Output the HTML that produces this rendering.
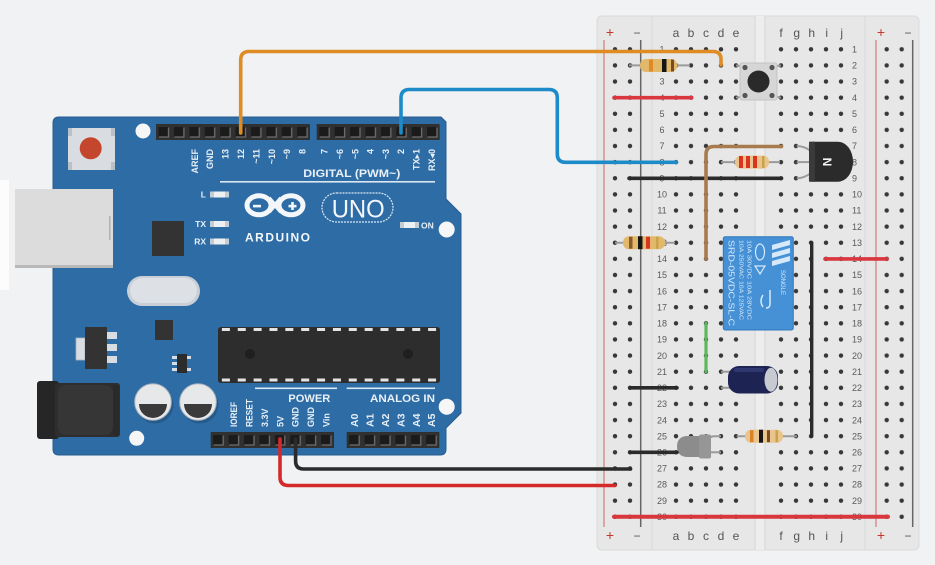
<!DOCTYPE html>
<html><head><meta charset="utf-8"><style>
html,body{margin:0;padding:0;background:#f1f2f3;}
svg{display:block;}
</style></head><body>
<svg width="935" height="565" viewBox="0 0 935 565" xmlns="http://www.w3.org/2000/svg" font-family="'Liberation Sans','DejaVu Sans',sans-serif">
<defs>
<pattern id="holes" patternUnits="userSpaceOnUse" width="15" height="16.12"><circle cx="7.5" cy="8.06" r="2.2" fill="#383838"/></pattern>
<pattern id="pins" patternUnits="userSpaceOnUse" width="15.4" height="16"><rect width="15.4" height="16" fill="#303030"/><rect x="2.5" y="3" width="10" height="10" fill="#1b1b1b"/><path d="M3 13H12.5V3.5" stroke="#6e6e6e" stroke-width="1.3" fill="none"/></pattern>
</defs>
<rect width="935" height="565" fill="#f1f2f3"/>
<rect x="0" y="180" width="9" height="110" fill="#fcfcfc"/>

<!-- ================= ARDUINO ================= -->
<!-- USB tabs -->
<circle cx="73" cy="183" r="8" fill="#c9d3de"/>
<circle cx="73" cy="274" r="8" fill="#c9d3de"/>
<!-- board -->
<path d="M59 117 L441 117 L446 122 L446 199 L461 214 L461 413 L446 428 L446 449 Q446 455 440 455 L59 455 Q53 455 53 449 L53 123 Q53 117 59 117 Z" fill="#2e6ca5" stroke="#275d90" stroke-width="1"/>
<!-- USB connector -->
<rect x="15" y="189" width="98" height="79" fill="#dcdcdc"/>
<rect x="15" y="265" width="98" height="3" fill="#b9b9b9"/>
<rect x="109" y="216" width="1.5" height="24" fill="#b0b0b0"/>
<!-- power jack -->
<rect x="37" y="381" width="22" height="58" rx="3" fill="#262626"/>
<rect x="55" y="383" width="65" height="54" rx="3" fill="#2e2e2e"/>
<rect x="58" y="385" width="55" height="50" rx="8" fill="#363636"/>
<rect x="113" y="385" width="6" height="50" fill="#2a2a2a"/>
<!-- reset button -->
<rect x="68" y="128" width="47" height="42" rx="4" fill="#d9dde2"/>
<rect x="68" y="128" width="4" height="8" fill="#b9c0c7"/><rect x="111" y="128" width="4" height="8" fill="#b9c0c7"/>
<rect x="68" y="162" width="4" height="8" fill="#b9c0c7"/><rect x="111" y="162" width="4" height="8" fill="#b9c0c7"/>
<circle cx="90.7" cy="148.3" r="11" fill="#c4472d"/>
<!-- mounting holes -->
<circle cx="143" cy="131" r="7.5" fill="#f6f6f6"/>
<circle cx="446.7" cy="229.5" r="8" fill="#f6f6f6"/>
<circle cx="446.7" cy="406.7" r="8" fill="#f6f6f6"/>
<circle cx="136.7" cy="438.3" r="7.5" fill="#f6f6f6"/>
<!-- chips -->
<rect x="152" y="221" width="32" height="35" fill="#333"/>
<rect x="155" y="320" width="18" height="20" fill="#333"/>
<rect x="172" y="356" width="5" height="3" fill="#d8dde3"/><rect x="172" y="362" width="5" height="3" fill="#d8dde3"/><rect x="172" y="368" width="5" height="3" fill="#d8dde3"/>
<rect x="186" y="356" width="5" height="3" fill="#d8dde3"/><rect x="186" y="368" width="5" height="3" fill="#d8dde3"/>
<rect x="177" y="354" width="10" height="19" fill="#2c2c2c"/>
<!-- regulator -->
<rect x="76" y="338" width="9" height="22" fill="#d8dde3" stroke="#a9b3bd" stroke-width="0.8"/>
<rect x="85" y="327" width="22" height="42" fill="#333"/>
<rect x="107" y="332" width="10" height="7" fill="#d8dde3"/>
<rect x="107" y="344" width="10" height="7" fill="#d8dde3"/>
<rect x="107" y="356" width="10" height="7" fill="#d8dde3"/>
<!-- crystal -->
<rect x="127" y="276" width="73" height="30" rx="15" fill="#c9cfd6"/>
<rect x="130" y="278" width="67" height="25" rx="12.5" fill="#dde1e5"/>
<!-- capacitors -->
<circle cx="155" cy="405" r="18.5" fill="#255a8a"/>
<circle cx="200" cy="405" r="18.5" fill="#255a8a"/>
<circle cx="153" cy="402" r="18.3" fill="#e6e8ea" stroke="#aab4bd" stroke-width="1"/>
<path d="M139 404 A14 14 0 0 0 167 404 Z" fill="#3a3a3a"/>
<circle cx="198" cy="402" r="18.3" fill="#e6e8ea" stroke="#aab4bd" stroke-width="1"/>
<path d="M184 404 A14 14 0 0 0 212 404 Z" fill="#3a3a3a"/>
<!-- main IC -->
<rect x="218" y="327" width="222" height="56" rx="3" fill="#2d2d2d"/>
<line x1="221.9" y1="329.5" x2="440" y2="329.5" stroke="#e4e4e4" stroke-width="3" stroke-dasharray="8 7.86"/>
<line x1="221.9" y1="380" x2="440" y2="380" stroke="#e4e4e4" stroke-width="3" stroke-dasharray="8 7.86"/>
<circle cx="250" cy="354" r="5" fill="#1f1f1f"/>
<circle cx="408" cy="354" r="5" fill="#1f1f1f"/>

<!-- headers -->
<rect x="0" y="0" width="154" height="16" fill="url(#pins)" transform="translate(156,124)"/>
<rect x="0" y="0" width="123" height="16" fill="url(#pins)" transform="translate(316.7,124)"/>
<rect x="0" y="0" width="123.3" height="16" fill="url(#pins)" transform="translate(210.7,432)"/>
<rect x="0" y="0" width="92.6" height="16" fill="url(#pins)" transform="translate(346.7,432)"/>

<!-- top labels -->
<g fill="#e8f0f7" font-size="9" font-weight="bold" text-anchor="end">
<text transform="translate(197.8,149) rotate(-90)">AREF</text>
<text transform="translate(213.2,149) rotate(-90)">GND</text>
<text transform="translate(228.6,149) rotate(-90)">13</text>
<text transform="translate(244,149) rotate(-90)">12</text>
<text transform="translate(259.4,149) rotate(-90)">~11</text>
<text transform="translate(274.8,149) rotate(-90)">~10</text>
<text transform="translate(290.2,149) rotate(-90)">~9</text>
<text transform="translate(305.6,149) rotate(-90)">8</text>
<text transform="translate(327.7,149) rotate(-90)">7</text>
<text transform="translate(343,149) rotate(-90)">~6</text>
<text transform="translate(358.3,149) rotate(-90)">~5</text>
<text transform="translate(373.6,149) rotate(-90)">4</text>
<text transform="translate(388.9,149) rotate(-90)">~3</text>
<text transform="translate(404.2,149) rotate(-90)">2</text>
<text transform="translate(419.5,149) rotate(-90)">TX▸1</text>
<text transform="translate(434.8,149) rotate(-90)">RX◂0</text>
</g>
<text x="303.3" y="177" fill="#e8f0f7" font-size="11" font-weight="bold" textLength="97" lengthAdjust="spacingAndGlyphs">DIGITAL (PWM~)</text>
<rect x="220" y="181" width="215" height="1.6" fill="#dbe7f2"/>

<!-- LEDs -->
<g font-size="8.5" font-weight="bold" fill="#e8f0f7">
<text x="206" y="197.5" text-anchor="end">L</text>
<text x="206" y="227" text-anchor="end">TX</text>
<text x="206" y="244.5" text-anchor="end">RX</text>
<text x="421" y="228.5">ON</text>
</g>
<g>
<rect x="210" y="191.5" width="19" height="6" fill="#c4ccd4"/><rect x="214" y="191.5" width="11" height="6" fill="#eef1f4"/>
<rect x="210" y="221" width="19" height="6" fill="#c4ccd4"/><rect x="214" y="221" width="11" height="6" fill="#eef1f4"/>
<rect x="210" y="238.5" width="19" height="6" fill="#c4ccd4"/><rect x="214" y="238.5" width="11" height="6" fill="#eef1f4"/>
<rect x="400" y="222" width="19" height="6" fill="#c4ccd4"/><rect x="404" y="222" width="11" height="6" fill="#eef1f4"/>
</g>

<!-- logo -->
<ellipse cx="259" cy="205.3" rx="12" ry="9.5" fill="none" stroke="#f4f7fa" stroke-width="5"/>
<ellipse cx="291" cy="205.3" rx="12" ry="9.5" fill="none" stroke="#f4f7fa" stroke-width="5"/>
<path d="M269 198 L281 212 M269 212 L281 198" stroke="#f4f7fa" stroke-width="4"/>
<rect x="253" y="204.8" width="8" height="2.6" fill="#f4f7fa"/>
<rect x="288.5" y="204.8" width="8" height="2.6" fill="#f4f7fa"/>
<rect x="291.2" y="202" width="2.6" height="8" fill="#f4f7fa"/>
<text x="245" y="241.5" fill="#f4f7fa" font-size="12" font-weight="bold" textLength="65" lengthAdjust="spacing">ARDUINO</text>
<rect x="322" y="193" width="71" height="29" rx="14.5" fill="none" stroke="#dde8f3" stroke-width="1.2" stroke-dasharray="2 1"/>
<text x="331.7" y="217.5" fill="#f4f7fa" font-size="25" textLength="53" lengthAdjust="spacingAndGlyphs">UNO</text>

<!-- bottom labels -->
<rect x="255" y="387.5" width="82" height="1.6" fill="#dbe7f2"/>
<rect x="346.7" y="387.5" width="88.3" height="1.6" fill="#dbe7f2"/>
<text x="288.3" y="402" fill="#e8f0f7" font-size="11" font-weight="bold" textLength="42" lengthAdjust="spacingAndGlyphs">POWER</text>
<text x="370" y="402" fill="#e8f0f7" font-size="11" font-weight="bold" textLength="65" lengthAdjust="spacingAndGlyphs">ANALOG IN</text>
<g fill="#e8f0f7" font-size="9" font-weight="bold">
<text transform="translate(237.1,427) rotate(-90)" textLength="25" lengthAdjust="spacingAndGlyphs">IOREF</text>
<text transform="translate(252.5,427) rotate(-90)" textLength="28" lengthAdjust="spacingAndGlyphs">RESET</text>
<text transform="translate(267.9,427) rotate(-90)">3.3V</text>
<text transform="translate(283.3,427) rotate(-90)">5V</text>
<text transform="translate(298.7,427) rotate(-90)">GND</text>
<text transform="translate(314.1,427) rotate(-90)">GND</text>
<text transform="translate(329.5,427) rotate(-90)">Vin</text>
</g>
<g fill="#e8f0f7" font-size="10.5" font-weight="bold">
<text transform="translate(358.2,427) rotate(-90)">A0</text>
<text transform="translate(373.6,427) rotate(-90)">A1</text>
<text transform="translate(389,427) rotate(-90)">A2</text>
<text transform="translate(404.4,427) rotate(-90)">A3</text>
<text transform="translate(419.8,427) rotate(-90)">A4</text>
<text transform="translate(435.2,427) rotate(-90)">A5</text>
</g>

<!-- ================= BREADBOARD ================= -->
<rect x="597" y="16" width="322" height="534" rx="5" fill="#e7e7e7" stroke="#d9d9d9" stroke-width="1"/>
<rect x="755" y="16" width="10" height="534" fill="#ededed"/>
<line x1="755" y1="16" x2="755" y2="550" stroke="#d6d6d6" stroke-width="1"/>
<line x1="765" y1="16" x2="765" y2="550" stroke="#d6d6d6" stroke-width="1"/>
<line x1="652" y1="16" x2="652" y2="550" stroke="#d8d8d8" stroke-width="1"/>
<line x1="865" y1="16" x2="865" y2="550" stroke="#d8d8d8" stroke-width="1"/>
<!-- rail lines -->
<line x1="604" y1="40" x2="604" y2="527" stroke="#d27a7a" stroke-width="1.2"/>
<line x1="640.7" y1="40" x2="640.7" y2="527" stroke="#666" stroke-width="1.5"/>
<line x1="876" y1="40" x2="876" y2="527" stroke="#d27a7a" stroke-width="1.2"/>
<line x1="912.7" y1="40" x2="912.7" y2="527" stroke="#666" stroke-width="1.5"/>
<!-- holes -->
<rect x="0" y="0" width="30" height="483.6" fill="url(#holes)" transform="translate(607.5,41.24)"/>
<rect x="0" y="0" width="75" height="483.6" fill="url(#holes)" transform="translate(668.5,41.24)"/>
<rect x="0" y="0" width="75" height="483.6" fill="url(#holes)" transform="translate(773.5,41.24)"/>
<rect x="0" y="0" width="30" height="483.6" fill="url(#holes)" transform="translate(879.2,41.24)"/>
<!-- column labels -->
<g font-size="12" fill="#555" text-anchor="middle">
<text x="610" y="37" fill="#c0392b" font-size="14">+</text><text x="637" y="37">−</text>
<text x="676" y="37">a</text><text x="691" y="37">b</text><text x="706" y="37">c</text><text x="721" y="37">d</text><text x="736" y="37">e</text>
<text x="781" y="37">f</text><text x="796.7" y="37">g</text><text x="811.7" y="37">h</text><text x="826.7" y="37">i</text><text x="841.7" y="37">j</text>
<text x="881" y="37" fill="#c0392b" font-size="14">+</text><text x="908" y="37">−</text>
<text x="610" y="540" fill="#c0392b" font-size="14">+</text><text x="637" y="540">−</text>
<text x="676" y="540">a</text><text x="691" y="540">b</text><text x="706" y="540">c</text><text x="721" y="540">d</text><text x="736" y="540">e</text>
<text x="781" y="540">f</text><text x="796.7" y="540">g</text><text x="811.7" y="540">h</text><text x="826.7" y="540">i</text><text x="841.7" y="540">j</text>
<text x="881" y="540" fill="#c0392b" font-size="14">+</text><text x="908" y="540">−</text>
</g>
<!-- row numbers -->
<g font-size="9" fill="#5a5a5a" text-anchor="middle">
<text x="662" y="52.5">1</text><text x="662" y="68.6">2</text><text x="662" y="84.7">3</text><text x="662" y="100.9">4</text><text x="662" y="117">5</text>
<text x="662" y="133.1">6</text><text x="662" y="149.2">7</text><text x="662" y="165.3">8</text><text x="662" y="181.5">9</text><text x="662" y="197.6">10</text>
<text x="662" y="213.7">11</text><text x="662" y="229.8">12</text><text x="662" y="245.9">13</text><text x="662" y="262.1">14</text><text x="662" y="278.2">15</text>
<text x="662" y="294.3">16</text><text x="662" y="310.4">17</text><text x="662" y="326.5">18</text><text x="662" y="342.7">19</text><text x="662" y="358.8">20</text>
<text x="662" y="374.9">21</text><text x="662" y="391">22</text><text x="662" y="407.1">23</text><text x="662" y="423.3">24</text><text x="662" y="439.4">25</text>
<text x="662" y="455.5">26</text><text x="662" y="471.6">27</text><text x="662" y="487.7">28</text><text x="662" y="503.9">29</text><text x="662" y="520">30</text>
</g>
<g font-size="9" fill="#5a5a5a">
<text x="852" y="52.5">1</text><text x="852" y="68.6">2</text><text x="852" y="84.7">3</text><text x="852" y="100.9">4</text><text x="852" y="117">5</text>
<text x="852" y="133.1">6</text><text x="852" y="149.2">7</text><text x="852" y="165.3">8</text><text x="852" y="181.5">9</text><text x="852" y="197.6">10</text>
<text x="852" y="213.7">11</text><text x="852" y="229.8">12</text><text x="852" y="245.9">13</text><text x="852" y="262.1">14</text><text x="852" y="278.2">15</text>
<text x="852" y="294.3">16</text><text x="852" y="310.4">17</text><text x="852" y="326.5">18</text><text x="852" y="342.7">19</text><text x="852" y="358.8">20</text>
<text x="852" y="374.9">21</text><text x="852" y="391">22</text><text x="852" y="407.1">23</text><text x="852" y="423.3">24</text><text x="852" y="439.4">25</text>
<text x="852" y="455.5">26</text><text x="852" y="471.6">27</text><text x="852" y="487.7">28</text><text x="852" y="503.9">29</text><text x="852" y="520">30</text>
</g>

<!-- ===== components ===== -->
<!-- pushbutton -->
<g stroke="#9a9a9a" stroke-width="2" fill="none">
<path d="M736 65.4 L745 67"/><path d="M781 65.4 L772 67"/><path d="M736 97.7 L745 96"/><path d="M781 97.7 L772 96"/>
</g>
<rect x="740" y="63" width="37" height="37" rx="2" fill="#d6d6d6" stroke="#c4c4c4" stroke-width="1"/>
<circle cx="745" cy="67.5" r="2.6" fill="#555"/><circle cx="772" cy="67.5" r="2.6" fill="#555"/>
<circle cx="745" cy="95.5" r="2.6" fill="#555"/><circle cx="772" cy="95.5" r="2.6" fill="#555"/>
<circle cx="758.5" cy="81.5" r="11" fill="#2a2a2a"/>

<!-- resistor row 2 -->
<line x1="629" y1="65.4" x2="690" y2="65.4" stroke="#9a9a9a" stroke-width="2"/>
<rect x="640" y="59" width="37" height="13" rx="6" fill="#e2b86a"/>
<rect x="649" y="59.5" width="4" height="12" fill="#e08a25"/>
<rect x="662" y="59" width="4.5" height="13" fill="#151515"/>
<rect x="671" y="59.5" width="3" height="12" fill="#7a4a22"/>
<!-- resistor row 8 -->
<line x1="721" y1="162.1" x2="780" y2="162.1" stroke="#9a9a9a" stroke-width="2"/>
<rect x="735" y="155.6" width="34" height="13" rx="6" fill="#e9c48c"/>
<rect x="739" y="156" width="4" height="12" fill="#d8341f"/>
<rect x="746" y="156" width="4" height="12" fill="#d8341f"/>
<rect x="753" y="156" width="4" height="12" fill="#d8341f"/>
<rect x="762" y="156" width="2.5" height="12" fill="#c9a24a"/>
<!-- resistor row 13 -->
<line x1="615" y1="242.7" x2="675" y2="242.7" stroke="#9a9a9a" stroke-width="2"/>
<rect x="623" y="236.2" width="42" height="13" rx="6" fill="#e2b86a"/>
<rect x="629" y="236.7" width="3.5" height="12" fill="#8a5a2a"/>
<rect x="638" y="236.2" width="4.5" height="13" fill="#151515"/>
<rect x="646" y="236.7" width="4" height="12" fill="#d8341f"/>
<rect x="656" y="236.7" width="2.5" height="12" fill="#c9a24a"/>
<!-- resistor row 25 -->
<line x1="736.7" y1="436.2" x2="797" y2="436.2" stroke="#9a9a9a" stroke-width="2"/>
<rect x="745" y="429.7" width="38" height="13" rx="6" fill="#e9c48c"/>
<rect x="750" y="430.2" width="3.5" height="12" fill="#d9822a"/>
<rect x="759" y="429.7" width="4" height="13" fill="#151515"/>
<rect x="767" y="430.2" width="3" height="12" fill="#7a4a22"/>
<rect x="775.5" y="430.2" width="2.5" height="12" fill="#c9a24a"/>

<!-- transistor -->
<g stroke="#9a9a9a" stroke-width="2" fill="none">
<path d="M796.7 146 Q804 146 811 151"/><path d="M796.7 162.1 L811 162.1"/><path d="M796.7 178.3 Q804 178.3 811 173"/>
</g>
<path d="M812 141.7 L838 141.7 A15 20 0 0 1 838 181.7 L812 181.7 Q809 181.7 809 178.7 L809 144.7 Q809 141.7 812 141.7 Z" fill="#2b2b2b"/>
<rect x="809" y="141.7" width="6" height="40" fill="#3a3a3a"/>
<text transform="translate(823,162) rotate(90)" fill="#f2f2f2" font-size="12" font-weight="bold" text-anchor="middle">N</text>

<!-- relay -->
<rect x="723.3" y="236.7" width="70" height="93.3" rx="2" fill="#4691d6" stroke="#2f78bb" stroke-width="1"/>
<g fill="#d6e9fa" font-size="8.5">
<text transform="translate(728.5,240) rotate(90)" textLength="86" lengthAdjust="spacingAndGlyphs">SRD-05VDC-SL-C</text>
</g>
<g fill="#d6e9fa" font-size="5.5">
<text transform="translate(739.5,240) rotate(90)" textLength="80" lengthAdjust="spacingAndGlyphs">10A 250VAC  10A 125VAC</text>
<text transform="translate(747.5,240) rotate(90)" textLength="80" lengthAdjust="spacingAndGlyphs">10A 30VDC   10A 28VDC</text>
</g>
<ellipse cx="760" cy="252" rx="4.5" ry="8" fill="none" stroke="#d6e9fa" stroke-width="1.2"/>
<path d="M755 266 L765 266 L760 274 Z" fill="none" stroke="#d6e9fa" stroke-width="1.2"/>
<path d="M772 245 L790 240 L790 245 L772 250 Z M772 253 L790 248 L790 253 L772 258 Z M772 261 L790 256 L790 261 L772 266 Z" fill="#d6e9fa"/>
<text transform="translate(781,270) rotate(90)" fill="#d6e9fa" font-size="6">SONGLE</text>
<path d="M763 295 q-4 6 0 12 M770 290 l0 14 q0 4 -4 4" stroke="#d6e9fa" stroke-width="1.5" fill="none"/>

<!-- capacitor -->
<line x1="721" y1="371.7" x2="732" y2="371.7" stroke="#9a9a9a" stroke-width="2"/>
<line x1="721" y1="387.8" x2="732" y2="387.8" stroke="#9a9a9a" stroke-width="2"/>
<rect x="728" y="366" width="50" height="27.5" rx="11" fill="#1d2352"/>
<rect x="734" y="368" width="30" height="4" rx="2" fill="#2f3770"/>
<ellipse cx="771" cy="379.7" rx="6.5" ry="12" fill="#c8cad2"/>

<!-- LED -->
<g stroke="#9a9a9a" stroke-width="2" fill="none">
<path d="M721 436.2 L714 436.2 Q710 436.2 708 440"/><path d="M721 452.3 L708 452.3"/>
</g>
<path d="M700 436 L700 457 L688 457 Q677 457 677 446.5 Q677 436 688 436 Z" fill="#8c8c8c"/>
<rect x="699" y="434.5" width="12" height="24" rx="2" fill="#969696"/>

<!-- breadboard wires -->
<g fill="none" stroke-linecap="round" stroke-linejoin="round">
<path d="M614 97.7 L691.7 97.7" stroke="#d9363e" stroke-width="3.6"/>
<path d="M629 178.3 L781.5 178.3" stroke="#2b2b2b" stroke-width="3.6"/>
<path d="M781.5 146.5 L714 146.5 Q706 146.5 706 154.5 L706 258.9" stroke="#a87b4f" stroke-width="3.6"/>
<path d="M811.7 242.7 L811.7 436.2" stroke="#2b2b2b" stroke-width="3.4"/>
<path d="M825 258.9 L887 258.9" stroke="#d9363e" stroke-width="3.6"/>
<path d="M706 323.3 L706 371.7" stroke="#5cb85c" stroke-width="3.2"/>
<path d="M630 387.8 L677 387.8" stroke="#2b2b2b" stroke-width="3.6"/>
<path d="M630 452.3 L677 452.3" stroke="#2b2b2b" stroke-width="3.6"/>
<path d="M614 516.8 L888 516.8" stroke="#d9363e" stroke-width="4"/>
</g>

<!-- ===== long wires Arduino -> breadboard ===== -->
<g fill="none" stroke-linecap="round" stroke-linejoin="round" stroke-width="3.6">
<path d="M240.7 133 L240.7 60 Q240.7 51.5 249.2 51.5 L713 51.5 Q721 51.5 721 59.5 L721 65" stroke="#e08c25"/>
<path d="M401 133 L401 98 Q401 89.5 409.5 89.5 L549 89.5 Q557.3 89.5 557.3 98 L557.3 154 Q557.3 162.3 565.6 162.3 L676.5 162.3" stroke="#1d8bc8"/>
<path d="M295.6 439 L295.6 461 Q295.6 469 303.6 469 L630.5 469" stroke="#2b2b2b"/>
<path d="M280 439 L280 477 Q280 485.5 288.5 485.5 L615 485.5" stroke="#d42a2a"/>
</g>
</svg>
</body></html>
